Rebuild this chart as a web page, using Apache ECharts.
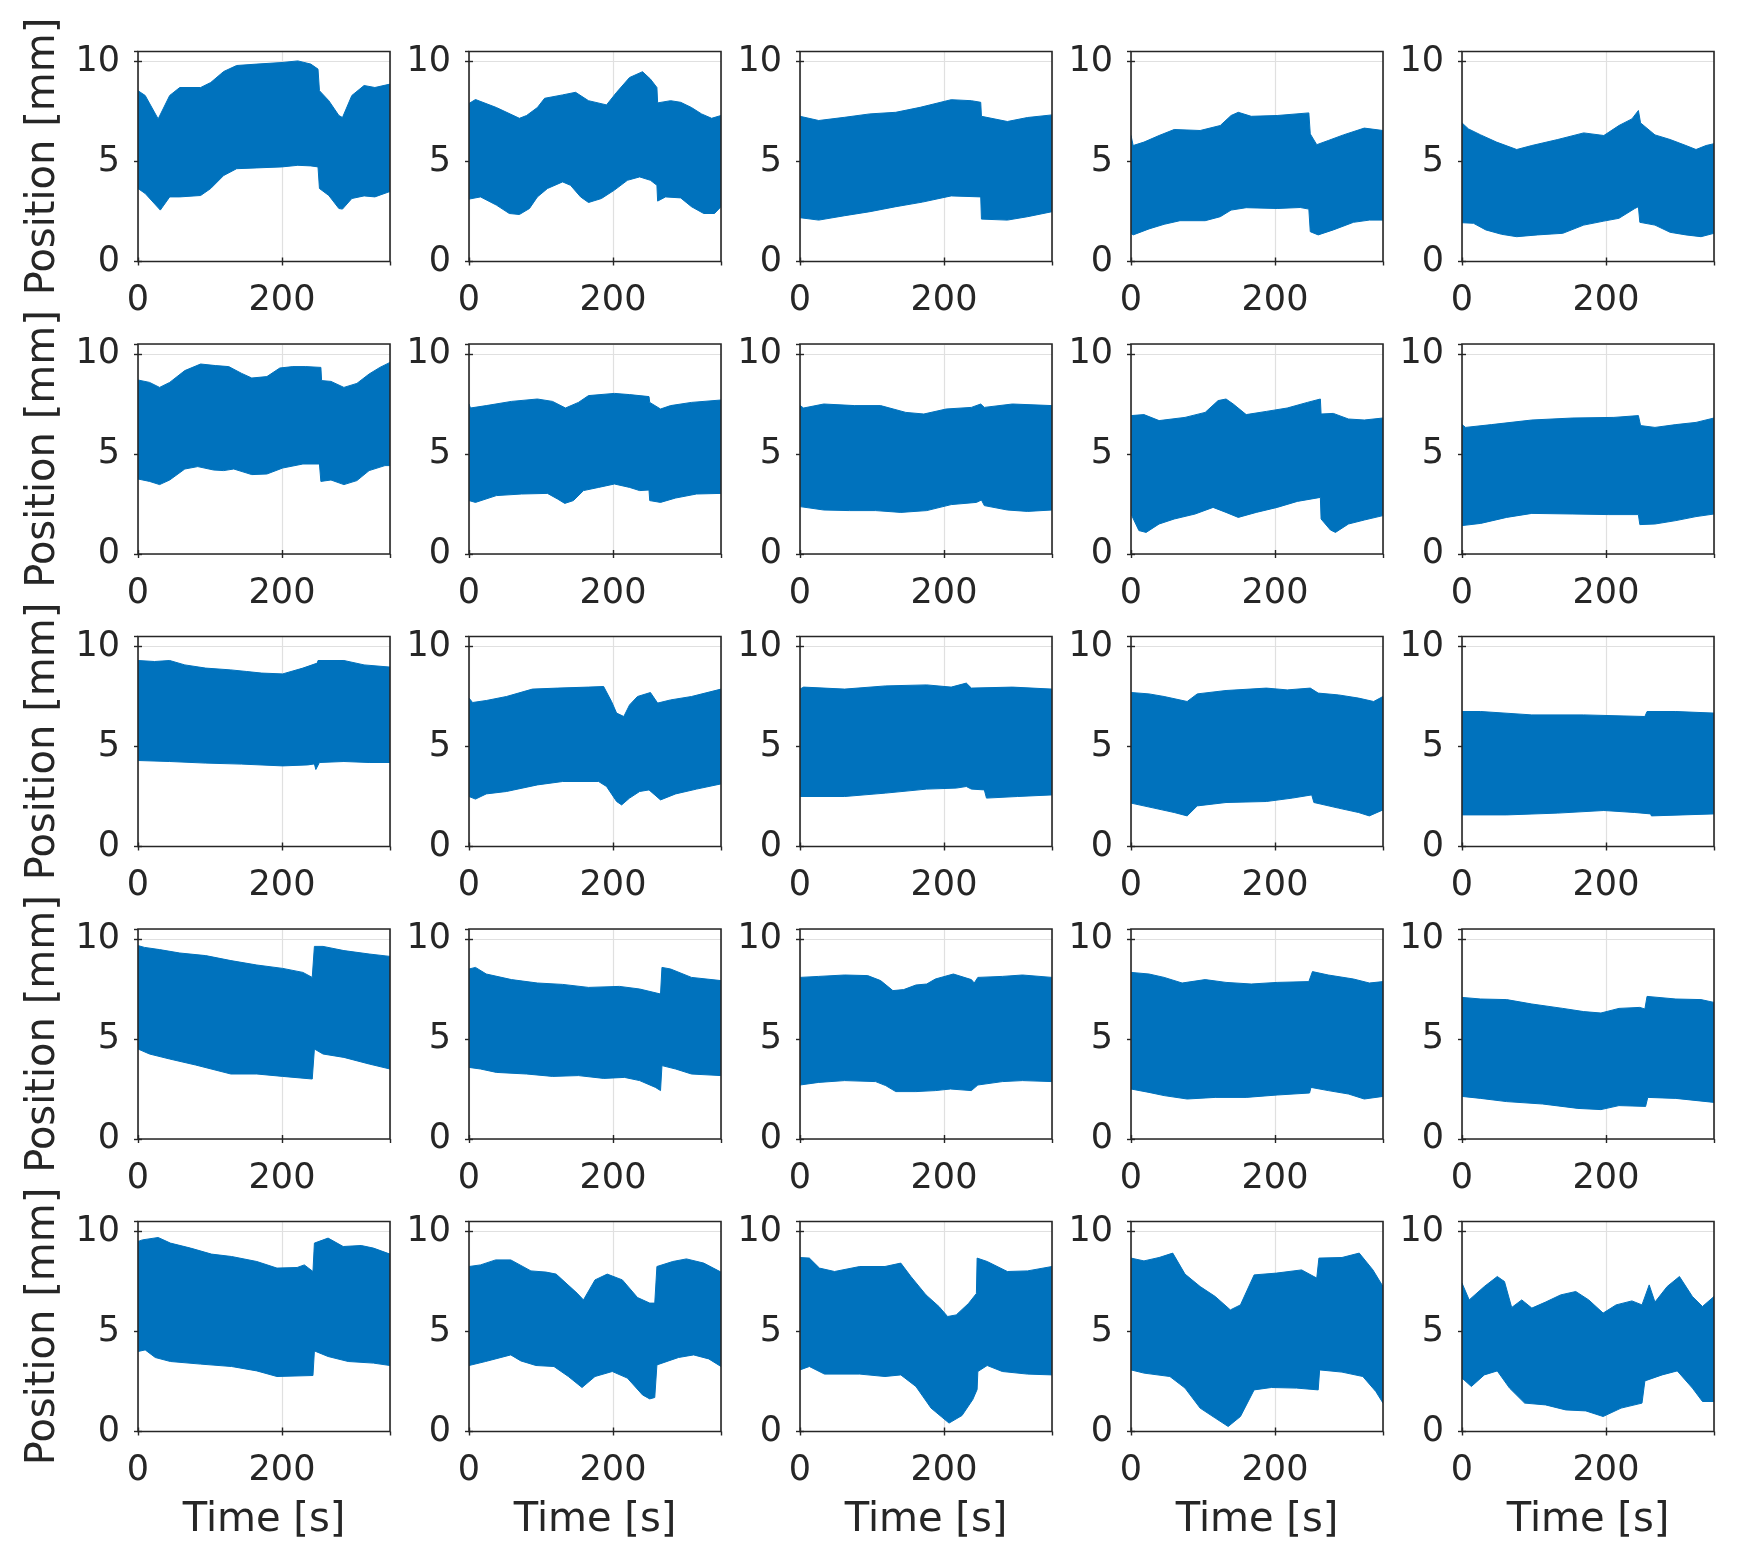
<!DOCTYPE html>
<html><head><meta charset="utf-8">
<script src="https://cdn.jsdelivr.net/npm/echarts@6/dist/echarts.min.js"></script>
<style>html,body{margin:0;padding:0;background:#fff}#c{width:1750px;height:1562px}</style>
</head><body><div id="c"></div>
<script>
// Tick labels
const timeTicks = [0, 200];
const posTicks = [0, 5, 10];

// Envelopes [time s, position mm] (upper / lower edge of the oscillation band)
const r1c1Upper = [[0,8.54],[10,8.3],[28,7.13],[44,8.3],[58,8.7],[87,8.7],[101,8.95],[119,9.5],[137,9.8],[165,9.87],[200,9.95],[222,10.03],[240,9.87],[250,9.62],[252,8.54],[265,8.04],[279,7.3],[284,7.2],[297,8.3],[314,8.8],[329,8.7],[350,8.87]];
const r1c1Lower = [[0,3.65],[10,3.4],[31,2.57],[44,3.23],[58,3.23],[87,3.3],[101,3.65],[119,4.3],[137,4.64],[165,4.68],[200,4.73],[222,4.81],[240,4.78],[250,4.73],[252,3.65],[265,3.3],[279,2.65],[284,2.62],[297,3.15],[314,3.28],[329,3.23],[350,3.5]];
const r1c2Upper = [[0,7.9],[9,8.1],[38,7.7],[70,7.16],[80,7.3],[95,7.7],[105,8.16],[130,8.33],[148,8.46],[166,8.04],[191,7.83],[205,8.46],[223,9.2],[241,9.49],[252,9.12],[261,8.7],[262,7.93],[280,8.04],[294,7.96],[309,7.7],[323,7.38],[337,7.16],[350,7.3]];
const r1c2Lower = [[0,3.12],[16,3.23],[38,2.82],[56,2.4],[70,2.35],[84,2.65],[95,3.23],[109,3.65],[130,3.98],[141,3.81],[155,3.23],[166,2.95],[184,3.15],[202,3.57],[220,4.06],[237,4.23],[252,4.06],[261,3.81],[262,3.02],[273,3.23],[294,3.18],[309,2.74],[326,2.4],[341,2.4],[350,2.74]];
const r1c3Upper = [[0,7.26],[26,7.05],[62,7.21],[97,7.38],[133,7.46],[167,7.71],[210,8.09],[238,8.04],[251,7.96],[252,7.26],[288,7.0],[316,7.2],[350,7.33]];
const r1c3Lower = [[0,2.19],[26,2.07],[62,2.29],[97,2.49],[133,2.74],[170,2.97],[210,3.28],[251,3.23],[252,2.12],[288,2.07],[316,2.24],[350,2.49]];
const r1c4Upper = [[0,6.3],[3,5.8],[18,5.97],[39,6.3],[60,6.6],[96,6.55],[124,6.8],[139,7.3],[149,7.46],[167,7.26],[203,7.3],[247,7.43],[249,6.38],[258,5.84],[274,6.05],[295,6.33],[324,6.67],[350,6.55]];
const r1c4Lower = [[0,1.41],[3,1.33],[25,1.63],[46,1.86],[68,2.04],[103,2.04],[124,2.24],[139,2.57],[160,2.69],[203,2.65],[235,2.7],[247,2.62],[249,1.49],[260,1.33],[281,1.58],[309,1.96],[331,2.07],[350,2.07]];
const r1c5Upper = [[0,6.93],[9,6.63],[26,6.33],[48,5.97],[76,5.6],[97,5.8],[133,6.1],[169,6.43],[197,6.3],[218,6.8],[236,7.13],[245,7.55],[248,6.93],[268,6.33],[289,6.1],[311,5.8],[325,5.6],[339,5.8],[350,5.89]];
const r1c5Lower = [[0,1.94],[16,1.91],[33,1.58],[55,1.36],[76,1.24],[105,1.33],[140,1.41],[169,1.82],[197,2.02],[218,2.16],[240,2.65],[245,2.74],[247,1.96],[268,1.82],[289,1.46],[311,1.33],[332,1.24],[350,1.41]];

const r2c1Upper = [[0,8.7],[16,8.58],[30,8.33],[44,8.58],[65,9.17],[87,9.5],[108,9.42],[126,9.37],[144,9.03],[158,8.8],[179,8.87],[197,9.3],[215,9.37],[233,9.37],[254,9.33],[255,8.67],[268,8.63],[286,8.33],[304,8.53],[321,9.0],[336,9.33],[350,9.58]];
const r2c1Lower = [[0,3.75],[16,3.63],[30,3.47],[44,3.7],[65,4.25],[83,4.37],[105,4.2],[119,4.17],[133,4.25],[158,3.97],[179,4.0],[201,4.3],[229,4.5],[252,4.5],[254,3.63],[268,3.7],[286,3.47],[304,3.67],[321,4.17],[343,4.42],[350,4.42]];
const r2c2Upper = [[0,7.5],[2,7.3],[24,7.42],[59,7.63],[95,7.75],[116,7.63],[134,7.3],[152,7.58],[166,7.92],[202,8.03],[223,7.97],[250,7.87],[251,7.58],[266,7.25],[280,7.42],[309,7.58],[350,7.7]];
const r2c2Lower = [[0,2.67],[9,2.58],[38,2.92],[73,3.0],[109,3.03],[123,2.75],[133,2.53],[145,2.67],[159,3.17],[180,3.33],[202,3.5],[223,3.33],[237,3.17],[250,3.2],[251,2.67],[266,2.58],[287,2.8],[316,3.0],[350,3.03]];
const r2c3Upper = [[0,7.42],[5,7.3],[33,7.5],[76,7.42],[112,7.42],[147,7.08],[172,7.0],[203,7.25],[238,7.33],[251,7.5],[256,7.33],[295,7.5],[350,7.42]];
const r2c3Lower = [[0,2.37],[33,2.2],[69,2.17],[105,2.17],[140,2.08],[176,2.17],[210,2.47],[245,2.58],[252,2.7],[256,2.42],[288,2.2],[316,2.13],[350,2.2]];
const r2c4Upper = [[0,6.92],[18,6.97],[39,6.67],[75,6.83],[103,7.08],[121,7.67],[132,7.75],[142,7.5],[160,6.97],[188,7.13],[217,7.3],[245,7.58],[263,7.75],[264,7.0],[281,7.03],[302,6.75],[324,6.7],[350,6.8]];
const r2c4Lower = [[0,2.0],[11,1.17],[21,1.08],[39,1.5],[60,1.75],[89,2.0],[114,2.33],[132,2.08],[149,1.83],[174,2.08],[203,2.33],[231,2.63],[263,2.83],[264,1.75],[277,1.2],[284,1.08],[302,1.5],[324,1.7],[350,1.92]];
const r2c5Upper = [[0,6.47],[5,6.33],[41,6.47],[97,6.7],[154,6.8],[211,6.83],[245,6.92],[248,6.42],[268,6.33],[297,6.47],[325,6.58],[350,6.8]];
const r2c5Lower = [[0,1.42],[26,1.53],[62,1.83],[97,2.03],[154,2.0],[204,1.97],[245,1.97],[247,1.47],[268,1.5],[297,1.67],[325,1.87],[350,2.0]];

const r3c1Upper = [[0,9.3],[23,9.25],[44,9.3],[65,9.08],[94,8.92],[129,8.83],[151,8.75],[172,8.67],[201,8.63],[229,8.92],[249,9.17],[250,9.3],[286,9.3],[314,9.08],[350,8.97]];
const r3c1Lower = [[0,4.3],[44,4.25],[94,4.17],[144,4.12],[201,4.03],[236,4.08],[245,4.13],[247,3.85],[252,4.2],[286,4.25],[321,4.2],[350,4.2]];
const r3c2Upper = [[0,7.42],[5,7.2],[24,7.3],[52,7.5],[88,7.87],[123,7.92],[166,7.97],[187,8.0],[198,7.25],[205,6.67],[215,6.5],[223,7.08],[234,7.5],[252,7.7],[262,7.17],[280,7.33],[309,7.5],[350,7.87]];
const r3c2Lower = [[0,2.5],[9,2.37],[24,2.63],[52,2.75],[95,3.08],[130,3.25],[180,3.25],[191,3.0],[205,2.25],[212,2.08],[223,2.42],[237,2.75],[250,2.83],[266,2.33],[287,2.63],[316,2.87],[350,3.13]];
const r3c3Upper = [[0,7.87],[5,7.97],[62,7.87],[119,8.03],[176,8.08],[210,7.97],[231,8.17],[238,7.92],[295,7.97],[350,7.87]];
const r3c3Lower = [[0,2.5],[62,2.5],[119,2.67],[176,2.87],[217,2.92],[231,3.0],[238,2.87],[256,2.83],[259,2.42],[302,2.5],[350,2.58]];
const r3c4Upper = [[0,7.7],[25,7.63],[46,7.5],[78,7.25],[92,7.63],[132,7.8],[188,7.92],[217,7.83],[249,7.92],[260,7.67],[288,7.58],[316,7.42],[337,7.25],[350,7.5]];
const r3c4Lower = [[0,2.17],[32,1.92],[60,1.7],[78,1.53],[92,2.03],[132,2.2],[188,2.25],[224,2.42],[251,2.58],[254,2.2],[288,1.92],[316,1.7],[331,1.53],[350,1.83]];
const r3c5Upper = [[0,6.75],[26,6.75],[97,6.58],[169,6.58],[254,6.5],[257,6.75],[297,6.75],[350,6.67]];
const r3c5Lower = [[0,1.58],[62,1.58],[133,1.67],[197,1.8],[240,1.7],[262,1.63],[263,1.53],[350,1.63]];

const r4c1Upper = [[0,9.67],[9,9.58],[30,9.47],[58,9.3],[94,9.17],[129,8.92],[165,8.7],[201,8.53],[229,8.33],[242,8.08],[245,9.63],[257,9.63],[286,9.42],[321,9.25],[350,9.13]];
const r4c1Lower = [[0,4.5],[16,4.25],[44,4.0],[80,3.7],[129,3.25],[165,3.25],[201,3.13],[242,3.0],[245,4.5],[257,4.25],[286,4.08],[321,3.75],[350,3.5]];
const r4c2Upper = [[0,8.5],[9,8.58],[24,8.25],[59,7.97],[95,7.8],[130,7.73],[166,7.58],[209,7.63],[237,7.5],[266,7.25],[268,8.58],[280,8.5],[309,8.08],[350,7.92]];
const r4c2Lower = [[0,3.58],[16,3.5],[38,3.33],[80,3.25],[116,3.13],[152,3.17],[187,3.03],[216,3.08],[237,2.92],[259,2.58],[266,2.42],[268,3.67],[287,3.5],[309,3.25],[350,3.17]];
const r4c3Upper = [[0,8.08],[26,8.13],[62,8.2],[94,8.17],[112,7.92],[129,7.42],[144,7.47],[161,7.7],[176,7.75],[188,8.0],[213,8.25],[238,7.97],[242,7.8],[247,8.08],[281,8.13],[309,8.2],[350,8.08]];
const r4c3Lower = [[0,2.7],[26,2.83],[62,2.92],[105,2.87],[119,2.67],[133,2.37],[161,2.37],[188,2.42],[209,2.5],[238,2.42],[247,2.7],[281,2.87],[309,2.92],[350,2.87]];
const r4c4Upper = [[0,8.33],[25,8.25],[46,8.08],[71,7.8],[103,7.97],[132,7.83],[167,7.75],[203,7.83],[247,7.87],[252,8.37],[274,8.2],[309,8.0],[331,7.8],[350,7.87]];
const r4c4Lower = [[0,2.5],[25,2.33],[46,2.17],[78,2.0],[117,2.08],[160,2.08],[203,2.2],[248,2.3],[250,2.58],[274,2.42],[302,2.25],[324,2.0],[350,2.13]];
const r4c5Upper = [[0,7.08],[26,7.0],[62,6.97],[97,6.75],[140,6.53],[169,6.37],[193,6.3],[218,6.53],[247,6.58],[254,6.5],[257,7.13],[297,7.0],[332,6.97],[350,6.83]];
const r4c5Lower = [[0,2.13],[26,2.03],[62,1.87],[112,1.75],[161,1.53],[193,1.47],[218,1.67],[255,1.63],[258,2.08],[297,2.03],[350,1.83]];

const r5c1Upper = [[0,9.5],[6,9.58],[28,9.7],[45,9.42],[73,9.17],[102,8.87],[130,8.75],[165,8.5],[193,8.17],[221,8.2],[231,8.33],[243,8.0],[245,9.42],[264,9.67],[285,9.25],[310,9.3],[327,9.17],[350,8.87]];
const r5c1Lower = [[0,4.0],[10,4.08],[24,3.7],[45,3.5],[87,3.37],[130,3.25],[165,3.03],[193,2.75],[243,2.8],[245,4.03],[264,3.75],[292,3.5],[327,3.42],[350,3.3]];
const r5c2Upper = [[0,8.25],[16,8.33],[37,8.58],[58,8.58],[86,8.03],[107,7.97],[121,7.87],[150,6.92],[159,6.58],[175,7.58],[192,7.87],[213,7.58],[234,6.7],[251,6.42],[258,6.42],[261,8.25],[283,8.5],[302,8.63],[326,8.42],[350,7.97]];
const r5c2Lower = [[0,3.3],[23,3.5],[58,3.83],[72,3.53],[93,3.3],[118,3.25],[138,2.75],[157,2.2],[175,2.75],[199,3.0],[220,2.67],[241,1.83],[251,1.63],[258,1.7],[261,3.33],[291,3.7],[312,3.83],[333,3.63],[350,3.25]];
const r5c3Upper = [[0,8.7],[13,8.67],[27,8.17],[48,8.0],[83,8.25],[118,8.25],[140,8.42],[154,7.75],[175,6.83],[193,6.25],[205,5.75],[217,5.83],[234,6.4],[245,6.9],[246,8.67],[260,8.5],[288,8.0],[316,8.03],[350,8.25]];
const r5c3Lower = [[0,3.08],[13,3.25],[34,2.87],[83,2.87],[118,2.75],[140,2.83],[161,2.25],[182,1.17],[196,0.75],[207,0.42],[225,0.8],[240,1.6],[246,2.1],[247,3.0],[260,3.3],[281,3.0],[316,2.87],[350,2.83]];
const r5c4Upper = [[0,8.67],[18,8.53],[39,8.7],[58,8.92],[75,7.87],[96,7.25],[117,6.75],[138,6.08],[152,6.33],[171,7.83],[202,7.92],[237,8.08],[258,7.67],[261,8.67],[293,8.7],[317,8.92],[336,8.08],[350,7.25]];
const r5c4Lower = [[0,3.08],[18,2.92],[54,2.75],[75,2.17],[96,1.17],[117,0.67],[135,0.25],[152,0.75],[171,2.08],[195,2.2],[230,2.17],[260,2.08],[262,3.08],[293,2.97],[322,2.75],[340,2.0],[350,1.42]];
const r5c5Upper = [[0,7.42],[10,6.58],[31,7.25],[49,7.75],[59,7.5],[69,6.2],[83,6.58],[97,6.17],[116,6.47],[137,6.83],[158,7.0],[176,6.58],[196,5.92],[214,6.33],[236,6.53],[250,6.33],[260,7.33],[268,6.47],[285,7.25],[302,7.75],[320,6.75],[334,6.25],[350,6.75]];
const r5c5Lower = [[0,2.67],[13,2.25],[31,2.83],[49,3.03],[66,2.17],[87,1.42],[116,1.33],[144,1.08],[172,1.03],[196,0.75],[221,1.17],[250,1.42],[254,2.53],[278,2.83],[299,3.03],[320,2.17],[334,1.5],[350,1.5]];

const panels = [
  [r1c1Upper, r1c1Lower], [r1c2Upper, r1c2Lower], [r1c3Upper, r1c3Lower], [r1c4Upper, r1c4Lower], [r1c5Upper, r1c5Lower],
  [r2c1Upper, r2c1Lower], [r2c2Upper, r2c2Lower], [r2c3Upper, r2c3Lower], [r2c4Upper, r2c4Lower], [r2c5Upper, r2c5Lower],
  [r3c1Upper, r3c1Lower], [r3c2Upper, r3c2Lower], [r3c3Upper, r3c3Lower], [r3c4Upper, r3c4Lower], [r3c5Upper, r3c5Lower],
  [r4c1Upper, r4c1Lower], [r4c2Upper, r4c2Lower], [r4c3Upper, r4c3Lower], [r4c4Upper, r4c4Lower], [r4c5Upper, r4c5Lower],
  [r5c1Upper, r5c1Lower], [r5c2Upper, r5c2Lower], [r5c3Upper, r5c3Lower], [r5c4Upper, r5c4Lower], [r5c5Upper, r5c5Lower]
];

const BLUE = '#0072BD', INK = '#262626', GRIDC = '#e0e0e0', FONT = 'DejaVu Sans';
const grids = [], xAxes = [], yAxes = [], series = [];
const tickStyle = {show: true, inside: true, length: 4, lineStyle: {color: INK, width: 1.4}};

panels.forEach((p, i) => {
  const r = Math.floor(i / 5), c = i % 5;
  grids.push({left: 138 + c * 331, top: 51.5 + r * 292.5, width: 252, height: 210,
    show: true, borderColor: INK, borderWidth: 1.6, backgroundColor: 'transparent', z: 3});
  const xb = {gridIndex: i, type: 'value', min: 0, max: 350, interval: 200, position: 'bottom',
    axisLine: {show: false}, axisTick: tickStyle,
    axisLabel: {show: true, margin: 22, fontSize: 35, color: INK, fontFamily: FONT, showMaxLabel: false,
      formatter: v => timeTicks.includes(v) ? String(v) : ''},
    splitLine: {show: true, lineStyle: {color: GRIDC, width: 1.2}}};
  if (r === 4) Object.assign(xb, {name: 'Time [s]', nameLocation: 'middle', nameGap: 69,
    nameTextStyle: {fontSize: 40, color: INK, fontFamily: FONT}});
  xAxes.push(xb);
  xAxes.push({gridIndex: i, type: 'value', min: 0, max: 350, interval: 200, position: 'top',
    axisLine: {show: false}, axisTick: tickStyle, axisLabel: {show: false}, splitLine: {show: false}});
  const yl = {gridIndex: i, type: 'value', min: 0, max: 10.5, interval: 5, position: 'left',
    axisLine: {show: false}, axisTick: tickStyle,
    axisLabel: {show: true, margin: 18, fontSize: 35, color: INK, fontFamily: FONT, showMaxLabel: false,
      padding: [5, 0, 0, 0],
      formatter: v => posTicks.includes(v) ? String(v) : ''},
    splitLine: {show: true, lineStyle: {color: GRIDC, width: 1.2}}};
  if (c === 0) Object.assign(yl, {name: 'Position [mm]', nameLocation: 'middle', nameGap: 74,
    nameTextStyle: {fontSize: 40, color: INK, fontFamily: FONT}});
  yAxes.push(yl);
  yAxes.push({gridIndex: i, type: 'value', min: 0, max: 10.5, interval: 5, position: 'right',
    axisLine: {show: false}, axisTick: tickStyle, axisLabel: {show: false}, splitLine: {show: false}});
  const upper = p[0], lower = p[1];
  series.push({
    type: 'custom', xAxisIndex: 2 * i, yAxisIndex: 2 * i, clip: true, silent: true,
    data: [[upper[0][0], upper[0][1]]], encode: {x: 0, y: 1},
    renderItem: function (params, api) {
      const pts = [];
      upper.forEach(q => pts.push(api.coord(q)));
      for (let k = lower.length - 1; k >= 0; k--) pts.push(api.coord(lower[k]));
      return {type: 'polygon', shape: {points: pts},
        style: {fill: BLUE, stroke: BLUE, lineWidth: 1}};
    }
  });
});

const chart = echarts.init(document.getElementById('c'), null, {renderer: 'canvas'});
chart.setOption({animation: false, backgroundColor: '#fff', grid: grids, xAxis: xAxes, yAxis: yAxes, series: series});
</script></body></html>
